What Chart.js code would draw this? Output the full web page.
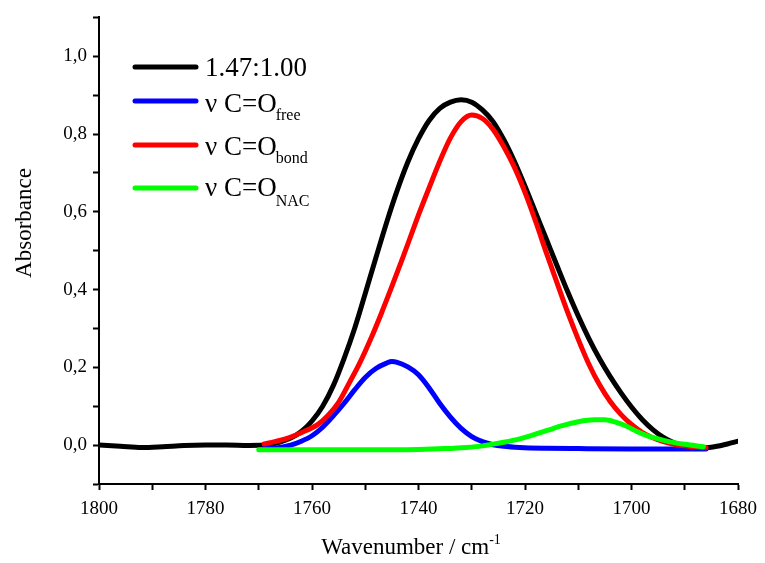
<!DOCTYPE html>
<html lang="en">
<head>
  <meta charset="UTF-8">
  <title>Absorbance vs wavenumber</title>
  <script src="https://cdn.jsdelivr.net/npm/chart.js"></script>
  <style>
    html, body { margin: 0; padding: 0; background: #fff; }
    #wrap { width: 765px; height: 563px; }
  </style>
</head>
<body>
  <div id="wrap"><canvas id="spectrum" width="765" height="563"></canvas></div>
  <script>
    // values
    const blackX = [1800, 1796, 1792, 1788, 1784, 1780, 1776, 1772, 1769, 1766, 1764, 1762, 1760, 1758, 1756, 1754, 1752, 1750, 1748, 1746, 1744, 1742, 1740, 1738, 1736, 1734, 1732, 1730, 1728, 1726, 1724, 1722, 1720, 1718, 1716, 1714, 1712, 1710, 1708, 1706, 1704, 1702, 1700, 1698, 1696, 1694, 1692, 1690, 1688, 1686, 1684, 1682, 1680];
    const blackY = [0.000, -0.003, -0.006, -0.004, -0.001, 0.000, 0.000, -0.001, 0.000, 0.008, 0.018, 0.035, 0.062, 0.100, 0.153, 0.222, 0.300, 0.390, 0.482, 0.572, 0.655, 0.728, 0.788, 0.835, 0.866, 0.882, 0.888, 0.882, 0.862, 0.832, 0.786, 0.730, 0.666, 0.598, 0.530, 0.462, 0.395, 0.332, 0.274, 0.222, 0.176, 0.135, 0.098, 0.066, 0.040, 0.020, 0.006, -0.003, -0.007, -0.007, -0.003, 0.003, 0.010];

    const freeX = [1769, 1766, 1764, 1762, 1760, 1758, 1756, 1754, 1752, 1750, 1748, 1746, 1745, 1744, 1742, 1740, 1738, 1736, 1734, 1732, 1730, 1728, 1726, 1724, 1721, 1716, 1710, 1700, 1686];
    const freeY = [-0.008, -0.006, 0.000, 0.010, 0.024, 0.046, 0.075, 0.107, 0.142, 0.174, 0.197, 0.211, 0.215, 0.213, 0.201, 0.181, 0.147, 0.107, 0.072, 0.043, 0.022, 0.009, 0.001, -0.003, -0.006, -0.008, -0.009, -0.010, -0.010];

    const bondX = [1769, 1767, 1765, 1763, 1761, 1759, 1757, 1755, 1753, 1751, 1749, 1747, 1745, 1743, 1741, 1740, 1738, 1736, 1734, 1732, 1730, 1728, 1726, 1724, 1722, 1720, 1718, 1716, 1714, 1712, 1710, 1708, 1706, 1704, 1702, 1700, 1698, 1696, 1694, 1692, 1690, 1688, 1686];
    const bondY = [0.003, 0.009, 0.016, 0.026, 0.038, 0.052, 0.076, 0.110, 0.160, 0.212, 0.272, 0.338, 0.408, 0.480, 0.555, 0.592, 0.662, 0.730, 0.790, 0.832, 0.849, 0.840, 0.812, 0.768, 0.715, 0.650, 0.575, 0.495, 0.418, 0.342, 0.272, 0.208, 0.155, 0.112, 0.079, 0.053, 0.033, 0.019, 0.009, 0.002, -0.002, -0.005, -0.007];

    const nacX = [1770, 1760, 1750, 1740, 1735, 1731, 1728, 1725, 1722, 1719, 1716, 1713, 1710, 1707, 1705, 1703, 1701, 1699, 1697, 1695, 1693, 1690, 1686.5];
    const nacY = [-0.012, -0.012, -0.012, -0.011, -0.009, -0.006, -0.002, 0.005, 0.013, 0.024, 0.037, 0.050, 0.060, 0.065, 0.065, 0.059, 0.049, 0.035, 0.024, 0.016, 0.009, 0.002, -0.004];

    const seriesNames = ['1.47:1.00', 'free', 'bond', 'NAC'];
    const seriesColors = ['#000000', '#0000ff', '#ff0000', '#00ff00'];

    const xLabels = ['1680', '1700', '1720', '1740', '1760', '1780', '1800'];
    const yLabels = ['0,0', '0,2', '0,4', '0,6', '0,8', '1,0'];

    const pts = (xs, ys) => xs.map((x, i) => ({ x: x, y: ys[i] }));
    const serif = "'Liberation Serif', 'Times New Roman', serif";

    function line(i, xs, ys, order) {
      return {
        label: seriesNames[i],
        data: pts(xs, ys),
        borderColor: seriesColors[i],
        backgroundColor: seriesColors[i],
        borderWidth: 5,
        borderCapStyle: 'round',
        borderJoinStyle: 'round',
        pointRadius: 0,
        cubicInterpolationMode: 'monotone',
        order: order
      };
    }

    // legend + axis titles (need sub/superscripts)
    const extras = {
      id: 'extras',
      afterDraw(chart) {
        const ctx = chart.ctx;
        ctx.save();
        ctx.fillStyle = '#000';
        ctx.textBaseline = 'alphabetic';
        ctx.textAlign = 'left';

        const rows = [
          { y: 67, base: 76, sub: 0 },
          { y: 101, base: 112, sub: 8 },
          { y: 145, base: 155, sub: 8 },
          { y: 188, base: 196, sub: 10 }
        ];
        rows.forEach((r, i) => {
          ctx.strokeStyle = seriesColors[i];
          ctx.lineWidth = 5;
          ctx.lineCap = 'round';
          ctx.beginPath();
          ctx.moveTo(135, r.y);
          ctx.lineTo(196, r.y);
          ctx.stroke();
          ctx.font = '27px ' + serif;
          if (i === 0) {
            ctx.fillText(seriesNames[0], 205, r.base);
          } else {
            const main = '\u03bd C=O';
            ctx.fillText(main, 205, r.base);
            const w = ctx.measureText(main).width;
            ctx.font = '16px ' + serif;
            ctx.fillText(seriesNames[i], 204 + w, r.base + r.sub);
          }
        });

        // x title
        ctx.font = '23px ' + serif;
        const xt = 'Wavenumber / cm';
        const xw = ctx.measureText(xt).width;
        ctx.font = '14px ' + serif;
        const sw = ctx.measureText('-1').width;
        let x0 = 411 - (xw + sw) / 2;
        ctx.font = '23px ' + serif;
        ctx.fillText(xt, x0, 554);
        ctx.font = '14px ' + serif;
        ctx.fillText('-1', x0 + xw, 544);

        // y title
        ctx.translate(31, 223);
        ctx.rotate(-Math.PI / 2);
        ctx.textAlign = 'center';
        ctx.font = '23px ' + serif;
        ctx.fillText('Absorbance', 0, 0);
        ctx.restore();
      }
    };

    const tickGrid = {
      display: true,
      drawOnChartArea: false,
      drawTicks: true,
      tickLength: 6,
      tickWidth: 2,
      tickColor: '#000'
    };

    new Chart(document.getElementById('spectrum'), {
      type: 'line',
      data: {
        datasets: [
          line(0, blackX, blackY, 4),
          line(1, freeX, freeY, 3),
          line(2, bondX, bondY, 2),
          line(3, nacX, nacY, 1)
        ]
      },
      options: {
        responsive: false,
        animation: false,
        layout: { padding: { left: 0, top: 16, right: 25, bottom: 0 } },
        plugins: { legend: { display: false }, tooltip: { enabled: false } },
        scales: {
          x: {
            type: 'linear',
            reverse: true,
            min: 1680,
            max: 1800,
            border: { display: true, color: '#000', width: 2 },
            grid: tickGrid,
            ticks: {
              stepSize: 10,
              autoSkip: false,
              maxRotation: 0,
              padding: 8,
              color: '#000',
              font: { family: serif, size: 19 },
              callback: v => (Math.round(v) % 20 === 0 ? xLabels[(Math.round(v) - 1680) / 20] : '')
            },
            afterFit: s => { s.height = 79; }
          },
          y: {
            type: 'linear',
            min: -0.1,
            max: 1.1,
            border: { display: true, color: '#000', width: 2 },
            grid: tickGrid,
            ticks: {
              stepSize: 0.1,
              autoSkip: false,
              padding: 6,
              color: '#000',
              font: { family: serif, size: 19 },
              callback: v => {
                const k = Math.round(v * 10);
                return (k >= 0 && k <= 10 && k % 2 === 0) ? yLabels[k / 2] : '';
              }
            },
            afterFit: s => { s.width = 99; }
          }
        }
      },
      plugins: [extras]
    });
  </script>
</body>
</html>
